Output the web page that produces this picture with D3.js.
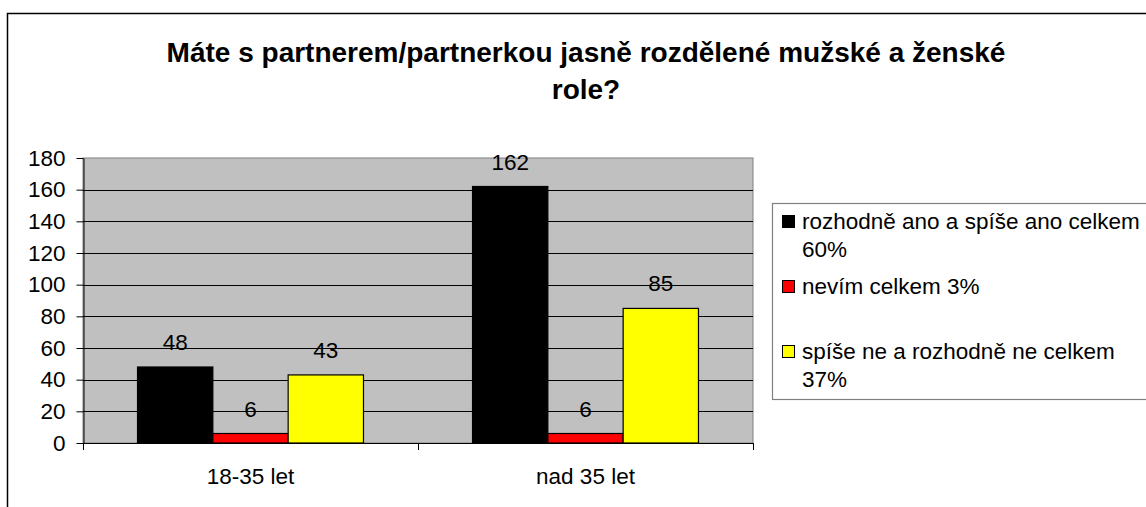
<!DOCTYPE html>
<html><head><meta charset="utf-8">
<script src="https://cdn.jsdelivr.net/npm/d3@7"></script>
<style>body{margin:0;background:#fff;}svg{display:block;font-family:Arial,"Liberation Sans",sans-serif;}</style>
</head><body>
<svg id="c" width="1146" height="507"></svg>
<script>
const categories = ["18-35 let", "nad 35 let"];
const seriesNames = ["rozhodně ano a spíše ano celkem 60%", "nevím celkem 3%", "spíše ne a rozhodně ne celkem 37%"];
const seriesColors = ["#000000", "#FF0000", "#FFFF00"];
const valuesYesRather = [48, 162];
const valuesDontKnow = [6, 6];
const valuesNoRather = [43, 85];
const yTicks = [0, 20, 40, 60, 80, 100, 120, 140, 160, 180];
const titleLines = ["Máte s partnerem/partnerkou jasně rozdělené mužské a ženské", "role?"];
const legendLines = [["rozhodně ano a spíše ano celkem", "60%"], ["nevím celkem 3%"], ["spíše ne a rozhodně ne celkem", "37%"]];

const seriesValues = [valuesYesRather, valuesDontKnow, valuesNoRather];
const svg = d3.select("#c");
const FS = 22.5;
const FF = "Arial, 'Liberation Sans', sans-serif";

// outer chart border
svg.append("rect").attr("x", 7.5).attr("y", 13.5).attr("width", 1200).attr("height", 600)
  .attr("fill", "#fff").attr("stroke", "#000").attr("stroke-width", 1.5);

// title
const title = svg.append("text").attr("text-anchor", "middle").attr("font-weight", "bold").attr("font-size", 28).attr("fill", "#000");
titleLines.forEach((t, i) => title.append("tspan").attr("x", 586).attr("y", 62 + i * 37).text(t));

const L = 83, R = 753, T = 158, B = 443;
const y = d3.scaleLinear().domain([0, 180]).range([B, T]);
const x0 = d3.scaleBand().domain(categories).range([L, R]);
const x1 = d3.scaleBand().domain(d3.range(seriesNames.length)).range([0, x0.bandwidth()]).paddingOuter(0.724);

svg.append("rect").attr("x", L).attr("y", T).attr("width", R - L).attr("height", B - T)
  .attr("fill", "#C0C0C0").attr("stroke", "#808080").attr("stroke-width", 1);

// gridlines
svg.append("g").selectAll("line").data(yTicks.filter(v => v > 0 && v < 180)).join("line")
  .attr("x1", L).attr("x2", R).attr("y1", d => Math.round(y(d)) + 0.5).attr("y2", d => Math.round(y(d)) + 0.5)
  .attr("stroke", "#000").attr("stroke-width", 1);

// y axis
const yAxis = svg.append("g").attr("transform", `translate(${L + 0.5},0)`)
  .call(d3.axisLeft(y).tickValues(yTicks).tickSize(7).tickPadding(11).tickSizeOuter(0));
yAxis.select(".domain").attr("stroke", "#000");
yAxis.selectAll(".tick line").attr("stroke", "#000");
yAxis.selectAll(".tick text").attr("font-size", FS).attr("font-family", FF).attr("fill", "#000");

// bars
const groups = svg.append("g").selectAll("g").data(categories).join("g")
  .attr("transform", d => `translate(${x0(d)},0)`);
groups.each(function(cat, ci) {
  const g = d3.select(this);
  seriesValues.forEach((vals, si) => {
    const v = vals[ci];
    g.append("rect").attr("x", x1(si)).attr("y", y(v)).attr("width", x1.bandwidth()).attr("height", B - y(v))
      .attr("fill", seriesColors[si]).attr("stroke", "#000").attr("stroke-width", 1.2);
    g.append("text").attr("x", x1(si) + x1.bandwidth() / 2).attr("y", y(v) - 17)
      .attr("text-anchor", "middle").attr("font-size", FS).attr("fill", "#000").text(v);
  });
});

// x axis
svg.append("line").attr("x1", L).attr("x2", R).attr("y1", B + 0.5).attr("y2", B + 0.5).attr("stroke", "#000");
const bounds = categories.map(c => x0(c)).concat([R]);
svg.append("g").selectAll("line").data(bounds).join("line")
  .attr("x1", d => d + 0.5).attr("x2", d => d + 0.5).attr("y1", B).attr("y2", B + 7).attr("stroke", "#000");
svg.append("g").selectAll("text").data(categories).join("text")
  .attr("x", d => x0(d) + x0.bandwidth() / 2).attr("y", 484).attr("text-anchor", "middle")
  .attr("font-size", FS).attr("fill", "#000").text(d => d);

// legend
svg.append("rect").attr("x", 772.5).attr("y", 203.5).attr("width", 500).attr("height", 196)
  .attr("fill", "#fff").attr("stroke", "#808080").attr("stroke-width", 1.2);
const legendBase = [229, 294, 359];
legendLines.forEach((lines, i) => {
  svg.append("rect").attr("x", 782.5).attr("y", legendBase[i] - 13.5).attr("width", 12).attr("height", 12)
    .attr("fill", seriesColors[i]).attr("stroke", "#000").attr("stroke-width", 1);
  const t = svg.append("text").attr("font-size", FS).attr("fill", "#000");
  lines.forEach((s, j) => t.append("tspan").attr("x", 802).attr("y", legendBase[i] + j * 28).text(s));
});
</script>
</body></html>
